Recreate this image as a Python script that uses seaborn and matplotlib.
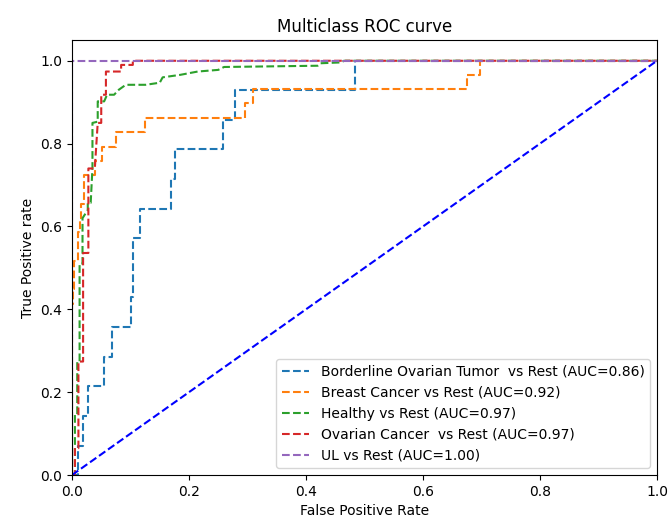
import numpy as np
import pandas as pd
import seaborn as sns
import matplotlib
matplotlib.use("Agg")
import matplotlib.pyplot as plt

# ROC corner points (fpr, tpr)
CLASS_NAMES = ['Borderline Ovarian Tumor ', 'Breast Cancer', 'Healthy', 'Ovarian Cancer ', 'UL']
AUCS = [0.86, 0.92, 0.97, 0.97, 1.00]

fpr_borderline = [0, 0.010, 0.010, 0.018, 0.018, 0.028, 0.028, 0.054, 0.054, 0.068, 0.068, 0.101, 0.101,
                  0.105, 0.105, 0.116, 0.116, 0.170, 0.170, 0.176, 0.176, 0.258, 0.258, 0.279, 0.279,
                  0.484, 0.484, 1.0]
tpr_borderline = [0, 0, 0.071, 0.071, 0.143, 0.143, 0.214, 0.214, 0.286, 0.286, 0.357, 0.357, 0.429,
                  0.429, 0.571, 0.571, 0.643, 0.643, 0.714, 0.714, 0.786, 0.786, 0.857, 0.857, 0.929,
                  0.929, 1.0, 1.0]

fpr_breast = [0, 0, 0.002, 0.002, 0.004, 0.004, 0.010, 0.010, 0.013, 0.013, 0.015, 0.015, 0.020, 0.020,
              0.039, 0.039, 0.052, 0.052, 0.075, 0.075, 0.124, 0.124, 0.296, 0.296, 0.310, 0.310,
              0.675, 0.675, 0.697, 0.697, 1.0]
tpr_breast = [0, 0.414, 0.414, 0.448, 0.448, 0.517, 0.517, 0.586, 0.586, 0.621, 0.621, 0.655, 0.655,
              0.724, 0.724, 0.759, 0.759, 0.793, 0.793, 0.828, 0.828, 0.862, 0.862, 0.897, 0.897,
              0.931, 0.931, 0.966, 0.966, 1.0, 1.0]

fpr_healthy = [0, 0.005, 0.005, 0.009, 0.009, 0.013, 0.013, 0.018, 0.018, 0.027, 0.027, 0.032, 0.035,
               0.035, 0.044, 0.044, 0.055, 0.060, 0.072, 0.080, 0.092, 0.126, 0.150, 0.155, 0.185,
               0.215, 0.250, 0.260, 0.420, 0.425, 0.460, 0.465, 1.0]
tpr_healthy = [0, 0, 0.145, 0.145, 0.274, 0.274, 0.51, 0.51, 0.62, 0.64, 0.657, 0.657, 0.742, 0.85,
               0.853, 0.902, 0.902, 0.918, 0.918, 0.930, 0.942, 0.942, 0.947, 0.960, 0.966, 0.974,
               0.978, 0.985, 0.988, 0.994, 0.996, 1.0, 1.0]

fpr_ovarian = [0, 0.005, 0.005, 0.011, 0.011, 0.019, 0.019, 0.028, 0.028, 0.039, 0.044, 0.050, 0.050,
               0.058, 0.058, 0.084, 0.084, 0.104, 0.104, 1.0]
tpr_ovarian = [0, 0, 0.065, 0.065, 0.274, 0.274, 0.536, 0.536, 0.74, 0.74, 0.85, 0.85, 0.918, 0.918,
               0.974, 0.974, 0.99, 0.99, 1.0, 1.0]

fpr_ul = [0, 0, 1.0]
tpr_ul = [0, 1.0, 1.0]

FPRS = [fpr_borderline, fpr_breast, fpr_healthy, fpr_ovarian, fpr_ul]
TPRS = [tpr_borderline, tpr_breast, tpr_healthy, tpr_ovarian, tpr_ul]

fig, ax = plt.subplots(figsize=(6.69, 5.27), dpi=100)
fig.subplots_adjust(left=0.1076, right=0.982, top=0.924, bottom=0.0986)

colors = sns.color_palette('tab10', 5)
for i, name in enumerate(CLASS_NAMES):
    df = pd.DataFrame({'fpr': FPRS[i], 'tpr': TPRS[i]})
    sns.lineplot(data=df, x='fpr', y='tpr', sort=False, estimator=None, ax=ax,
                 linestyle='--', color=colors[i], label=f'{name} vs Rest (AUC={AUCS[i]:.2f})')

ax.plot([0, 1], [0, 1], 'b--')
ax.set_xlim(0, 1)
ax.set_ylim(0, 1.05)
ax.set_title('Multiclass ROC curve')
ax.set_xlabel('False Positive Rate')
ax.set_ylabel('True Positive rate')
ax.legend(loc='lower right')

plt.savefig('out.png', dpi=100)
